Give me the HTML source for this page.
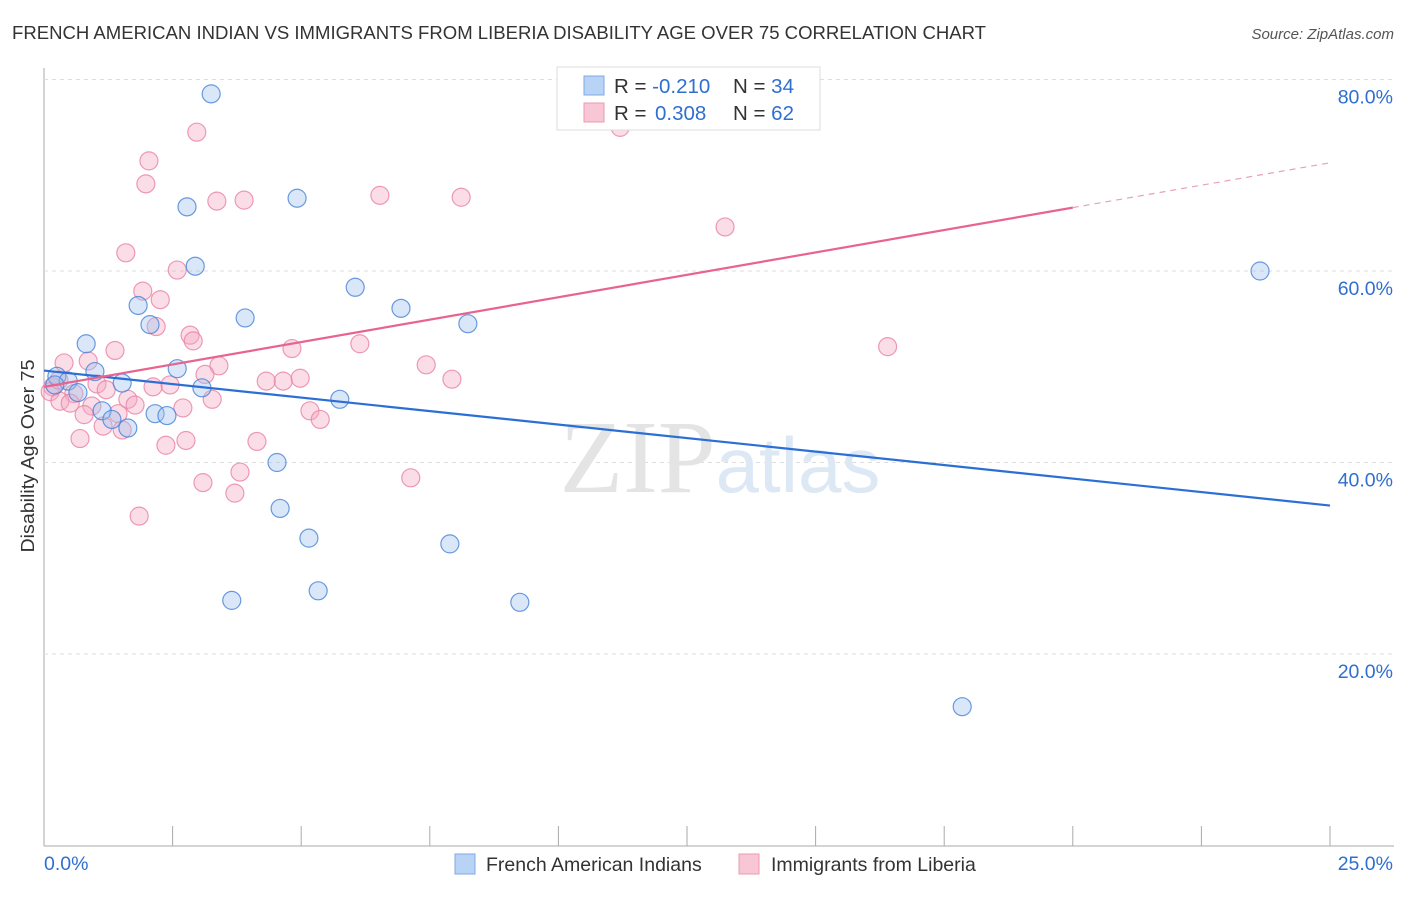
<!DOCTYPE html>
<html><head><meta charset="utf-8"><style>
body{margin:0;background:#fff;font-family:"Liberation Sans",sans-serif}
</style></head><body>
<svg width="1406" height="892" xmlns="http://www.w3.org/2000/svg" font-family="Liberation Sans, sans-serif">
<text x="12" y="39" font-size="18.5" fill="#333" textLength="974" lengthAdjust="spacingAndGlyphs">FRENCH AMERICAN INDIAN VS IMMIGRANTS FROM LIBERIA DISABILITY AGE OVER 75 CORRELATION CHART</text>
<text x="1394" y="39" font-size="15" fill="#555" font-style="italic" text-anchor="end">Source: ZipAtlas.com</text>
<g id="grid"></g>
<text x="720" y="492" font-size="104" fill="#e4e4e4" text-anchor="middle" font-family="Liberation Serif, serif">ZIP<tspan fill="#dde8f5" font-family="Liberation Sans, sans-serif" font-size="78">atlas</tspan></text>
<g id="points"></g>
<g id="lines"></g>
<text transform="translate(34,456) rotate(-90)" font-size="18" fill="#333" text-anchor="middle" textLength="193" lengthAdjust="spacingAndGlyphs">Disability Age Over 75</text>
<g>
<rect x="557" y="67" width="263" height="63" fill="#fff" stroke="#ddd"/>
<rect x="584" y="76" width="20" height="19" fill="#b8d3f5" stroke="#7fa9e3"/>
<rect x="584" y="103" width="20" height="19" fill="#f9c6d6" stroke="#eb9ab4"/>
<text x="614" y="93" font-size="20.5" fill="#333">R = <tspan fill="#2f6fd0">-0.210</tspan></text>
<text x="733" y="93" font-size="20.5" fill="#333">N = <tspan fill="#2f6fd0">34</tspan></text>
<text x="614" y="120" font-size="20.5" fill="#333">R = <tspan fill="#2f6fd0" x="655">0.308</tspan></text>
<text x="733" y="120" font-size="20.5" fill="#333">N = <tspan fill="#2f6fd0">62</tspan></text>
</g>
<g>
<rect x="455" y="854" width="20" height="20" fill="#b8d3f5" stroke="#7fa9e3"/>
<text x="486" y="871" font-size="19.5" fill="#333">French American Indians</text>
<rect x="739" y="854" width="20" height="20" fill="#f9c6d6" stroke="#eb9ab4"/>
<text x="771" y="871" font-size="19.5" fill="#333">Immigrants from Liberia</text>
</g>
</svg>
<script>
const xTicks=[0,2.5,5,7.5,10,12.5,15,17.5,20,22.5,25];
const yTicks=[20,40,60,80];
const yTickLabels=["20.0%","40.0%","60.0%","80.0%"];
const xTickLabels=["0.0%","25.0%"];
const blueX=[3.25,2.78,4.92,2.94,23.64,6.05,1.83,6.94,3.91,2.06,8.24,0.82,2.59,0.99,0.25,0.47,1.52,0.21,0.66,3.07,5.75,1.13,2.16,2.39,1.32,1.63,4.53,4.59,5.15,7.89,3.65,5.33,9.25,17.85];
const blueY=[78.5,66.7,67.6,60.5,60.0,58.3,56.4,56.1,55.1,54.4,54.5,52.4,49.8,49.5,49.0,48.5,48.3,48.1,47.3,47.8,46.6,45.4,45.1,44.9,44.5,43.6,40.0,35.2,32.1,31.5,25.6,26.6,25.4,14.5];
const pinkX=[2.97,11.2,2.04,1.98,3.36,3.89,6.53,8.11,13.24,1.59,2.59,1.92,2.26,2.18,2.84,2.90,1.38,4.82,6.14,16.4,0.39,0.86,3.40,7.43,3.13,4.65,4.32,4.98,7.93,1.03,0.17,2.45,2.12,1.21,0.12,0.58,0.31,0.51,1.63,3.27,0.93,1.77,2.70,1.44,0.78,5.17,5.37,1.15,1.52,0.70,2.76,2.37,4.14,3.81,7.13,3.09,3.71,1.85,0.29];
const pinkY=[74.5,75.0,71.5,69.1,67.3,67.4,67.9,67.7,64.6,61.9,60.1,57.9,57.0,54.2,53.3,52.7,51.7,51.9,52.4,52.1,50.4,50.6,50.1,50.2,49.2,48.5,48.5,48.8,48.7,48.2,47.9,48.1,47.9,47.6,47.4,47.2,46.4,46.2,46.6,46.6,45.9,46.0,45.7,45.1,45.0,45.4,44.5,43.8,43.4,42.5,42.3,41.8,42.2,39.0,38.4,37.9,36.8,34.4,48.6];
const blueLine=[49.6,35.5];   // y at x=0, x=25
const pinkLine=[47.9,71.3];   // y at x=0, x=25 (solid to 20)
const NS="http://www.w3.org/2000/svg";
const sx=v=>44+v/25*1286;
const sy=v=>845.5-v*9.575;
function mk(t,a,p){const e=document.createElementNS(NS,t);for(const k in a)e.setAttribute(k,a[k]);p.appendChild(e);return e;}
const grid=document.getElementById('grid');
const ax=mk('line',{x1:44,y1:68,x2:44,y2:846,stroke:'#aaa','stroke-width':1},grid);


const bx=mk('line',{x1:44,y1:846,x2:1394,y2:846,stroke:'#aaa','stroke-width':1},grid);


yTicks.forEach((t,i)=>{
 const g=mk('line',{x1:44,x2:1394,y1:sy(t),y2:sy(t),stroke:'#ddd','stroke-dasharray':'4,4'},grid);
 
 
 const l=mk('text',{x:1393,y:sy(t)+24,'font-size':19.5,fill:'#2f6fd0','text-anchor':'end'},grid);
 l.textContent=yTickLabels[i];
 
 
});
xTicks.forEach(t=>{
 const k=mk('line',{x1:sx(t),x2:sx(t),y1:826,y2:846,stroke:'#aaa'},grid);
 
 
});
const xl0=mk('text',{x:44,y:870,'font-size':19.5,fill:'#2f6fd0'},grid);xl0.textContent=xTickLabels[0];


const xl1=mk('text',{x:1393,y:870,'font-size':19.5,fill:'#2f6fd0','text-anchor':'end'},grid);xl1.textContent=xTickLabels[1];


const pts=document.getElementById('points');
pinkX.forEach((x,i)=>{
 const c=mk('circle',{cx:sx(x),cy:sy(pinkY[i]),r:9,fill:'rgba(245,170,195,0.4)',stroke:'rgba(232,130,165,0.8)','stroke-width':1.2},pts);
 
 
});
blueX.forEach((x,i)=>{
 const c=mk('circle',{cx:sx(x),cy:sy(blueY[i]),r:9,fill:'rgba(160,195,240,0.4)',stroke:'rgba(70,130,215,0.8)','stroke-width':1.2},pts);
 
 
});
const ln=document.getElementById('lines');
const b=mk('line',{x1:sx(0),y1:sy(blueLine[0]),x2:sx(25),y2:sy(blueLine[1]),stroke:'#2b6fd6','stroke-width':2.2},ln);


const pAt=x=>pinkLine[0]+(pinkLine[1]-pinkLine[0])*x/25;
const p=mk('line',{x1:sx(0),y1:sy(pAt(0)),x2:sx(20),y2:sy(pAt(20)),stroke:'#e8648f','stroke-width':2.2},ln);


const pd=mk('line',{x1:sx(20),y1:sy(pAt(20)),x2:sx(25),y2:sy(pAt(25)),stroke:'#e8a0b8','stroke-width':1.2,'stroke-dasharray':'6,5'},ln);


</script>
</body></html>
